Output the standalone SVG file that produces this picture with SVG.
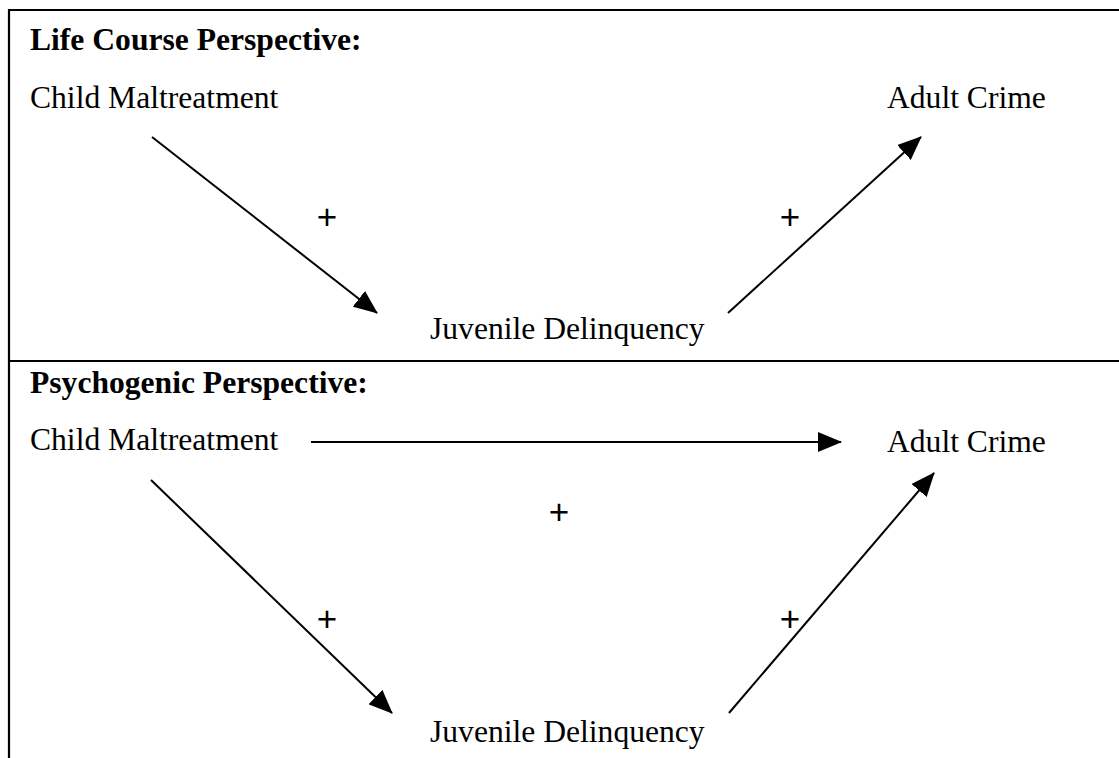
<svg xmlns="http://www.w3.org/2000/svg" width="1119" height="758" viewBox="0 0 1119 758">
<style>
text{font-family:"Liberation Serif","Times New Roman",serif;font-size:31.6px;fill:#000}
.title{font-weight:bold}
.plus{text-anchor:middle;font-family:"Liberation Sans",Arial,sans-serif;font-size:35px}
.frame{stroke:#000;stroke-width:2.2;fill:none}
.conn{stroke:#000;stroke-width:2;fill:none;marker-end:url(#ah)}
</style>
<defs>
<marker id="ah" markerUnits="userSpaceOnUse" markerWidth="24" markerHeight="20" viewBox="0 0 24 20" refX="23" refY="10" orient="auto">
<path d="M0,0 L24,10 L0,20 z" fill="#000"/>
</marker>
</defs>
<rect width="1119" height="758" fill="#fff"/>
<g id="frame">
<path class="frame" d="M9,758 V10 H1119 M9,361 H1119"/>
</g>
<g id="panel-life-course">
<text class="title" x="30" y="50">Life Course Perspective:</text>
<g id="lc-child"><text x="30" y="108">Child Maltreatment</text></g>
<g id="lc-adult"><text x="887" y="108">Adult Crime</text></g>
<g id="lc-juvenile"><text x="430" y="339">Juvenile Delinquency</text></g>
</g>
<g id="panel-psychogenic">
<text class="title" x="30" y="393">Psychogenic Perspective:</text>
<g id="ps-child"><text x="30" y="450">Child Maltreatment</text></g>
<g id="ps-adult"><text x="887" y="452">Adult Crime</text></g>
<g id="ps-juvenile"><text x="430" y="742">Juvenile Delinquency</text></g>
</g>
<g id="connectors">
<line class="conn" x1="152" y1="137" x2="377" y2="313"/>
<line class="conn" x1="728" y1="313" x2="921" y2="137"/>
<line class="conn" x1="311" y1="442" x2="841" y2="442"/>
<line class="conn" x1="151" y1="480" x2="392" y2="713"/>
<line class="conn" x1="729" y1="713" x2="934" y2="473"/>
</g>
<g id="labels">
<text class="plus" x="327" y="229">+</text>
<text class="plus" x="790" y="229">+</text>
<text class="plus" x="559" y="524">+</text>
<text class="plus" x="327" y="631">+</text>
<text class="plus" x="790" y="631">+</text>
</g>
</svg>
